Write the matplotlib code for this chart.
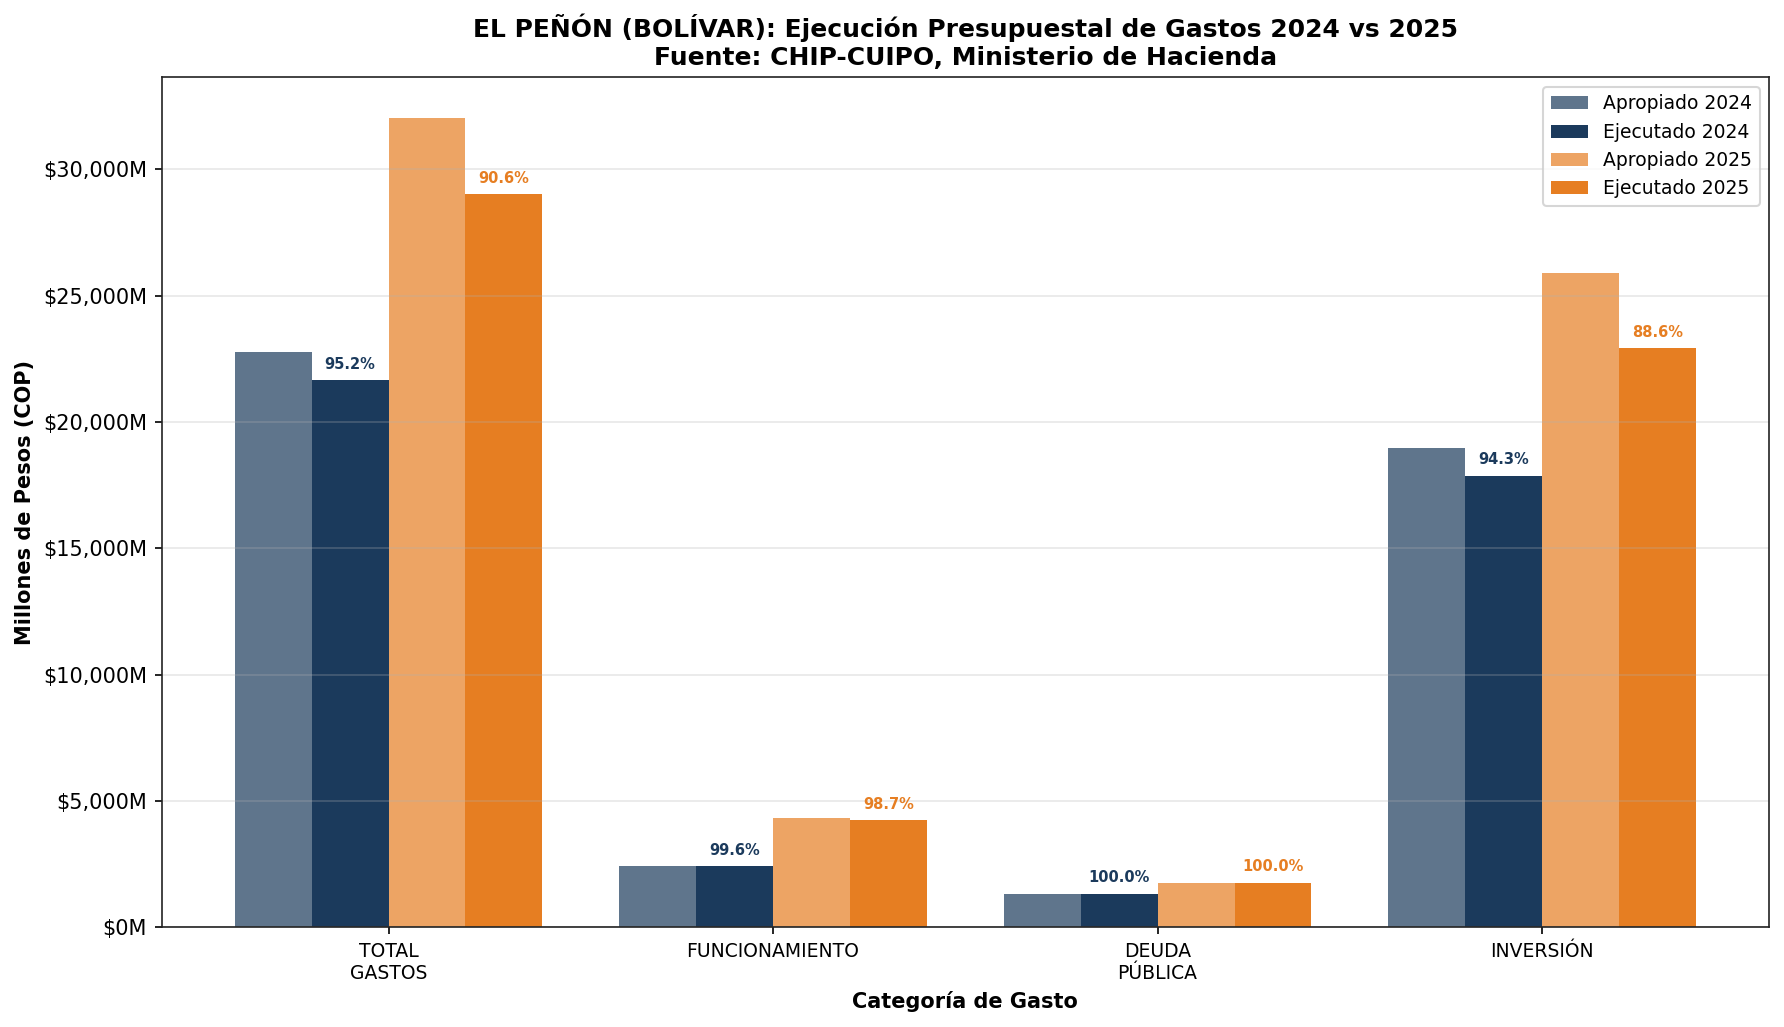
import numpy as np
import matplotlib
matplotlib.use("Agg")
import matplotlib.pyplot as plt
from matplotlib.ticker import FuncFormatter

# datos (millones de pesos)
categorias = ["TOTAL\nGASTOS", "FUNCIONAMIENTO", "DEUDA\nPÚBLICA", "INVERSIÓN"]
apropiado_2024 = [22770, 2444, 1335, 18964]
ejecutado_2024 = [21677, 2434, 1335, 17883]
apropiado_2025 = [32040, 4307, 1771, 25900]
ejecutado_2025 = [29028, 4251, 1771, 22947]

azul = "#1B3A5C"
naranja = "#E67E22"

fig = plt.figure(figsize=(1784 / 150, 1027 / 150), dpi=150)
ax = fig.add_subplot(111)
fig.subplots_adjust(left=0.0906, right=0.9916, top=0.9246, bottom=0.0971)

x = np.arange(len(categorias))
w = 0.2

ax.bar(x - 1.5 * w, apropiado_2024, w, color=azul, alpha=0.7, label="Apropiado 2024")
ax.bar(x - 0.5 * w, ejecutado_2024, w, color=azul, label="Ejecutado 2024")
ax.bar(x + 0.5 * w, apropiado_2025, w, color=naranja, alpha=0.7, label="Apropiado 2025")
ax.bar(x + 1.5 * w, ejecutado_2025, w, color=naranja, label="Ejecutado 2025")

#porcentaje de ejecucion sobre las barras de ejecutado
offset = max(apropiado_2025) * 0.01
for i in range(len(categorias)):
    p24 = ejecutado_2024[i] / apropiado_2024[i] * 100
    p25 = ejecutado_2025[i] / apropiado_2025[i] * 100
    ax.text(x[i] - 0.5 * w, ejecutado_2024[i] + offset, f"{p24:.1f}%",
            ha="center", va="bottom", fontsize=7, fontweight="bold", color=azul)
    ax.text(x[i] + 1.5 * w, ejecutado_2025[i] + offset, f"{p25:.1f}%",
            ha="center", va="bottom", fontsize=7, fontweight="bold", color=naranja)

ax.set_xticks(x)
ax.set_xticklabels(categorias, fontsize=9)
ax.yaxis.set_major_formatter(FuncFormatter(lambda v, p: f"${v:,.0f}M"))
ax.tick_params(axis="y", labelsize=10)
ax.grid(axis="y", alpha=0.3)
for s in ax.spines.values():
    s.set_color("#222222")

ax.set_xlabel("Categoría de Gasto", fontsize=10, fontweight="bold")
ax.set_ylabel("Millones de Pesos (COP)", fontsize=10, fontweight="bold")
ax.set_title("EL PEÑÓN (BOLÍVAR): Ejecución Presupuestal de Gastos 2024 vs 2025\n"
             "Fuente: CHIP-CUIPO, Ministerio de Hacienda",
             fontsize=12, fontweight="bold")
ax.legend(loc="upper right", fontsize=9)

fig.savefig("out.png", dpi=150)
